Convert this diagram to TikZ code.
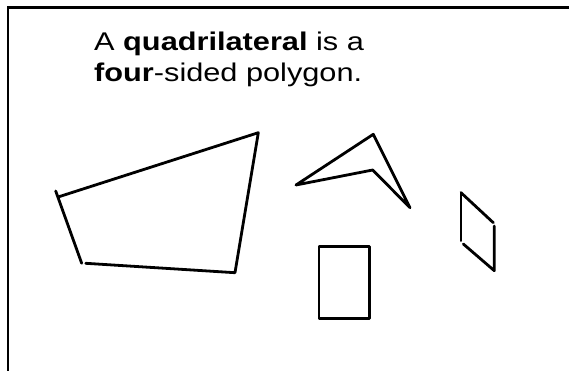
\documentclass[tikz,border=0pt]{standalone}
\usepackage{fontspec}
\setmainfont{Liberation Sans}
\begin{document}
\begin{tikzpicture}[x=1pt,y=-1pt,
  frameline/.style={line width=2.2pt},
  polyline/.style={line width=2.8pt,line cap=round,line join=round},
  txt/.style={anchor=base west,inner sep=0pt,font=\fontsize{25.6}{30.5}\selectfont}]
\useasboundingbox (0,0) rectangle (569,371);
% frame (top and left sides only)
\coordinate (fr1) at (569,7.5);
\coordinate (fr2) at (8,371);
\draw[frameline] (fr1) -| (fr2);
% title
\node[txt] (line1) at (94,51) {\scalebox{1.2}[1]{A \textbf{quadrilateral} is a}};
\node[txt] (line2) at (94,81.5) {\scalebox{1.2}[1]{\textbf{four}-sided polygon.}};
% quadrilateral 1 (irregular)
\coordinate (qa) at (55.7,191);
\coordinate (qb) at (81.7,263.3);
\coordinate (qc) at (85.7,263.3);
\coordinate (qd) at (235,272.7);
\coordinate (qe) at (258.3,132.7);
\coordinate (qf) at (59,196.7);
\draw[polyline] (qa) -- (qb);
\draw[polyline] (qc) -- (qd) -- (qe) -- (qf);
% concave kite
\coordinate (ka) at (296,185);
\coordinate (kb) at (373.3,134.3);
\coordinate (kc) at (410,207.7);
\coordinate (kd) at (372.7,170);
\draw[polyline] (ka) -- (kb) -- (kc) -- (kd) -- cycle;
% rectangle
\coordinate (ra) at (319,246.7);
\coordinate (rb) at (369.3,318.3);
\draw[polyline] (ra) rectangle (rb);
% parallelogram
\coordinate (pa) at (461,192.7);
\coordinate (pb) at (461,240.7);
\coordinate (pc) at (463.3,244);
\coordinate (pd) at (494.3,270.7);
\coordinate (pe) at (494.3,226);
\coordinate (pf) at (493.3,222.7);
\draw[polyline] (pa) -- (pb);
\draw[polyline] (pc) -- (pd) -- (pe);
\draw[polyline] (pf) -- (pa);
\end{tikzpicture}
\end{document}
